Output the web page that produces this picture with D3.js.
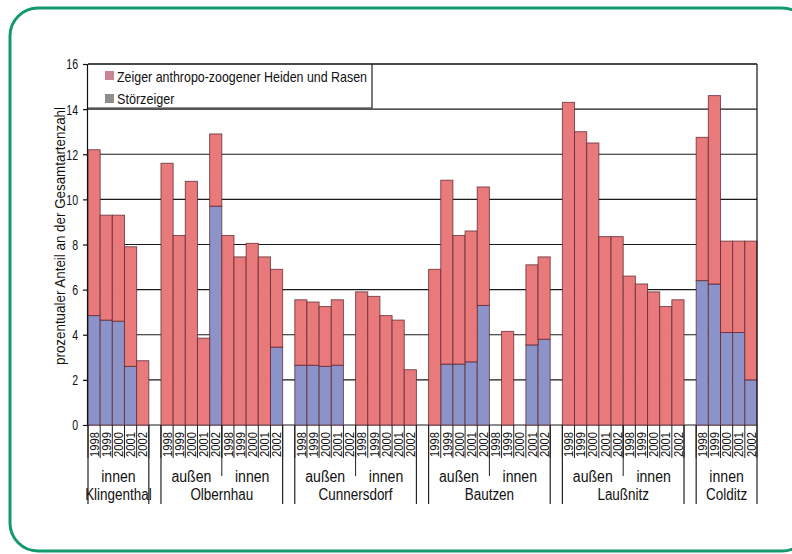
<!DOCTYPE html>
<html><head><meta charset="utf-8">
<script src="https://cdn.jsdelivr.net/npm/d3@7"></script>
<style>
html,body{margin:0;padding:0;background:#fff;}
svg text{font-family:"Liberation Sans","Arial",sans-serif;fill:#111;}
</style></head>
<body><svg id="c" width="792" height="554"></svg>
<script>
// ---- data ----
const years = ["1998","1999","2000","2001","2002"];
const sites = ["Klingenthal","Olbernhau","Cunnersdorf","Bautzen","Laußnitz","Colditz"];
const siteZones = [["innen"],["außen","innen"],["außen","innen"],["außen","innen"],["außen","innen"],["innen"]];
// per zone (in order of siteZones), values for years 1998..2002
const stoerzeiger = [
  [4.85,4.65,4.6,2.6,0],
  [0,0,0,0,9.7],
  [0,0,0,0,3.45],
  [2.65,2.65,2.6,2.65,0],
  [0,0,0,0,0],
  [0,2.7,2.7,2.8,5.3],
  [0,0,0,3.55,3.8],
  [0,0,0,0,0],
  [0,0,0,0,0],
  [6.4,6.25,4.1,4.1,2.0]
];
const zeigerHeiden = [
  [7.35,4.65,4.7,5.3,2.85],
  [11.6,8.4,10.8,3.85,3.2],
  [8.4,7.45,8.05,7.45,3.45],
  [2.9,2.8,2.65,2.9,0],
  [5.9,5.7,4.85,4.65,2.45],
  [6.9,8.15,5.7,5.8,5.25],
  [0,4.15,0,3.55,3.65],
  [14.3,13.0,12.5,8.35,8.35],
  [6.6,6.25,5.9,5.25,5.55],
  [6.35,8.35,4.05,4.05,6.15]
];
const yTicks = [0,2,4,6,8,10,12,14,16];
const seriesNames = ["Zeiger anthropo-zoogener Heiden und Rasen","Störzeiger"];
const yTitle = "prozentualer Anteil an der Gesamtartenzahl";

// ---- build rows ----
const slots = [], rows = [], zonesInfo = [], sitesInfo = [];
let zi = 0;
sites.forEach((s, si) => {
  const siteSlots = [];
  siteZones[si].forEach(z => {
    const zSlots = [];
    years.forEach((yv, yi) => {
      const key = s + "|" + z + "|" + yv;
      slots.push(key); zSlots.push(key); siteSlots.push(key);
      rows.push({key, year: yv, stoer: stoerzeiger[zi][yi], zeiger: zeigerHeiden[zi][yi]});
    });
    zonesInfo.push({site: s, zone: z, slots: zSlots});
    zi++;
  });
  sitesInfo.push({site: s, slots: siteSlots});
  if (si < sites.length - 1) slots.push("gap" + si);
});

// condense text horizontally (condensed typeface look)
function condense(sel, f) {
  sel.each(function () {
    const l = this.getComputedTextLength();
    this.setAttribute("textLength", (l * f).toFixed(2));
    this.setAttribute("lengthAdjust", "spacingAndGlyphs");
  });
}
function fitTo(sel, w) {
  sel.attr("textLength", w).attr("lengthAdjust", "spacingAndGlyphs");
}

const L = 88, R = 757, T = 64, B = 425;
const x = d3.scaleBand().domain(slots).range([L, R]).padding(0);
const y = d3.scaleLinear().domain([0, 16]).range([B, T]);
const svg = d3.select("#c");

// frame
svg.append("rect").attr("x", 10).attr("y", 8).attr("width", 800).attr("height", 543)
  .attr("rx", 28).attr("fill", "none").attr("stroke", "#14996f").attr("stroke-width", 3);

// gridlines
svg.append("g").selectAll("line").data(yTicks).join("line")
  .attr("x1", L).attr("x2", R).attr("y1", d => y(d)).attr("y2", d => y(d))
  .attr("stroke", "#1a1a1a").attr("stroke-width", 1.2);

// bars
const stack = d3.stack().keys(["stoer", "zeiger"]);
const series = stack(rows);
const colors = {stoer: "#8b93c8", zeiger: "#e97a7c"};
svg.append("g").selectAll("g").data(series).join("g")
  .attr("fill", d => colors[d.key])
  .selectAll("rect").data(d => d.filter(p => p[1] - p[0] > 0)).join("rect")
  .attr("x", d => x(d.data.key)).attr("width", x.bandwidth())
  .attr("y", d => y(d[1])).attr("height", d => y(d[0]) - y(d[1]))
  .attr("stroke", "#5e2530").attr("stroke-opacity", 0.75).attr("stroke-width", 1);

// right border + top
svg.append("line").attr("x1", R).attr("x2", R).attr("y1", T).attr("y2", B).attr("stroke", "#111").attr("stroke-width", 1.2);
svg.append("line").attr("x1", L).attr("x2", R).attr("y1", T).attr("y2", T).attr("stroke", "#333").attr("stroke-width", 1.5);

// y axis
const yAxis = d3.axisLeft(y).tickValues(yTicks).tickSize(4).tickPadding(5);
const ga = svg.append("g").attr("transform", `translate(${L - 1},0)`).call(yAxis);
ga.select(".domain").attr("stroke", "#111").attr("stroke-width", 1.2);
ga.selectAll(".tick line").attr("stroke", "#111").attr("stroke-width", 1.2);
ga.selectAll("text").attr("font-size", 15.5).attr("font-family", null).style("fill", "#111").call(condense, 0.68);

svg.append("text").attr("transform", `translate(65,236) rotate(-90)`)
  .attr("text-anchor", "middle").attr("font-size", 15).text(yTitle).call(fitTo, 258);

// x axis labels: year separators and labels
const gx = svg.append("g");
zonesInfo.forEach(zn => {
  zn.slots.forEach(k => {
    gx.append("line").attr("x1", x(k)).attr("x2", x(k)).attr("y1", B).attr("y2", 458)
      .attr("stroke", "#222").attr("stroke-width", 1);
  });
  const last = zn.slots[zn.slots.length - 1];
  const xe = x(last) + x.bandwidth();
  gx.append("line").attr("x1", xe).attr("x2", xe).attr("y1", B).attr("y2", 458).attr("stroke", "#222").attr("stroke-width", 1);
  const x0 = x(zn.slots[0]);
  gx.append("text").attr("x", (x0 + xe) / 2).attr("y", 482).attr("text-anchor", "middle")
    .attr("font-size", 16).text(zn.zone).call(condense, 0.88);
});
// zone separators within site
sitesInfo.forEach(st => {
  const zs = zonesInfo.filter(z => z.site === st.site);
  zs.slice(1).forEach(z => {
    const xx = x(z.slots[0]);
    gx.append("line").attr("x1", xx).attr("x2", xx).attr("y1", B).attr("y2", 476).attr("stroke", "#222").attr("stroke-width", 1);
  });
  const x0 = x(st.slots[0]), x1 = x(st.slots[st.slots.length - 1]) + x.bandwidth();
  [x0, x1].forEach(xx => gx.append("line").attr("x1", xx).attr("x2", xx).attr("y1", B).attr("y2", 504)
    .attr("stroke", "#222").attr("stroke-width", 1.2));
  gx.append("text").attr("x", (x0 + x1) / 2).attr("y", 500).attr("text-anchor", "middle")
    .attr("font-size", 16).text(st.site).call(condense, 0.84);
});
rows.forEach(r => {
  gx.append("text").attr("transform", `translate(${x(r.key) + x.bandwidth() / 2},457) rotate(-90)`)
    .attr("text-anchor", "start").attr("dy", "0.36em").attr("font-size", 13).text(r.year).call(condense, 0.86);
});

// legend
const lg = svg.append("g");
lg.append("rect").attr("x", L + 1).attr("y", T + 1).attr("width", 372 - L - 2).attr("height", 108 - T - 2).attr("fill", "#fff");
lg.append("path").attr("d", `M${L},108H372V${T}`).attr("fill", "none").attr("stroke", "#222").attr("stroke-width", 1.2);
const legendColors = ["#c98597", "#8e8e8e"];
seriesNames.forEach((n, i) => {
  lg.append("rect").attr("x", 105).attr("y", 71 + i * 23).attr("width", 9).attr("height", 9).attr("fill", legendColors[i]);
  const t = lg.append("text").attr("x", 117).attr("y", 82 + i * 22).attr("font-size", 15).text(n);
  if (i === 0) t.call(fitTo, 250); else t.call(condense, 0.84);
});
</script></body></html>
